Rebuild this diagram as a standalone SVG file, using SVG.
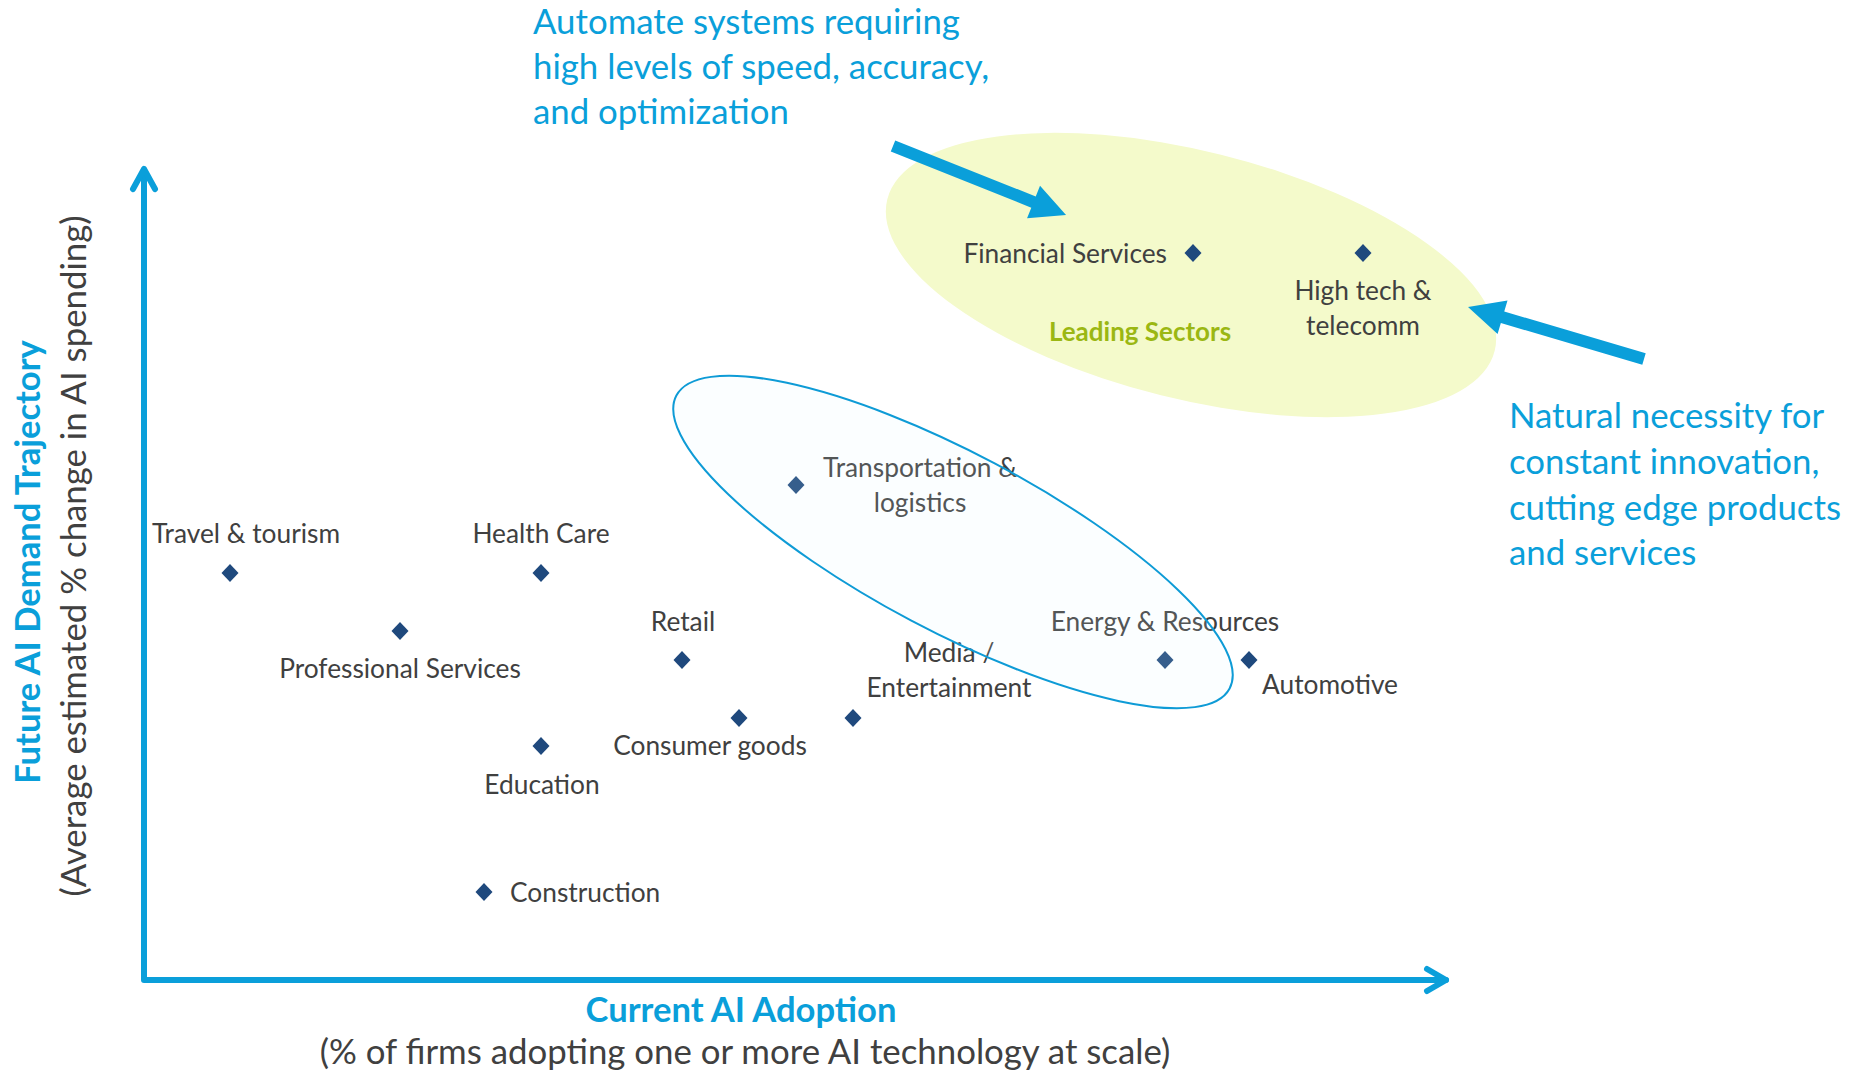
<svg xmlns="http://www.w3.org/2000/svg" width="1860" height="1075" viewBox="0 0 1860 1075">
<defs>
<style>
text{font-family:Lato,"Open Sans",sans-serif;}
.lbl{font-size:26.3px;fill:#404040;}
.call{font-size:34.8px;fill:#0A9FDA;}
.axt{font-size:34.6px;font-weight:bold;fill:#0A9FDA;}
.axs{font-size:34.8px;fill:#404040;}
.lead{font-size:26px;font-weight:bold;fill:#9BB713;}
.dia{fill:#1F497D;}
.axis{fill:none;stroke:#0A9FDA;stroke-width:6;stroke-linecap:round;stroke-linejoin:round;}
.blk{fill:#0A9FDA;}
</style>
<path id="d" d="M0,-9 L8.5,0 L0,9 L-8.5,0Z"/>
</defs>
<rect width="1860" height="1075" fill="#FFFFFF"/>
<g id="leading-sectors-zone">
<ellipse cx="1191" cy="275" rx="313" ry="124" transform="rotate(14 1191 275)" fill="#F4FACB"/>
<text class="lead" x="1140" y="341" text-anchor="middle">Leading Sectors</text>
</g>
<g id="axes">
<path class="axis" d="M144,170 V980 H1446"/>
<path class="axis" d="M133,189 L144,169 L155,189"/>
<path class="axis" d="M1427,969 L1446,980 L1427,991"/>
<text class="axt" x="741" y="1022" text-anchor="middle">Current AI Adoption</text>
<text class="axs" x="745" y="1064" text-anchor="middle">(% of firms adopting one or more AI technology at scale)</text>
<text class="axt" transform="translate(40,562) rotate(-90)" text-anchor="middle">Future AI Demand Trajectory</text>
<text class="axs" transform="translate(86,556) rotate(-90)" text-anchor="middle">(Average estimated % change in AI spending)</text>
</g>
<g id="travel"><use href="#d" class="dia" x="230" y="573"/><text class="lbl" x="246" y="543" text-anchor="middle">Travel &amp; tourism</text></g>
<g id="health"><use href="#d" class="dia" x="541" y="573"/><text class="lbl" x="541" y="543" text-anchor="middle">Health Care</text></g>
<g id="professional"><use href="#d" class="dia" x="400" y="631"/><text class="lbl" x="400" y="678" text-anchor="middle">Professional Services</text></g>
<g id="retail"><use href="#d" class="dia" x="682" y="660"/><text class="lbl" x="683" y="631" text-anchor="middle">Retail</text></g>
<g id="consumer"><use href="#d" class="dia" x="739" y="718"/><text class="lbl" x="710" y="755" text-anchor="middle">Consumer goods</text></g>
<g id="education"><use href="#d" class="dia" x="541" y="746"/><text class="lbl" x="542" y="794" text-anchor="middle">Education</text></g>
<g id="construction"><use href="#d" class="dia" x="484" y="892"/><text class="lbl" x="510" y="902">Construction</text></g>
<g id="media"><use href="#d" class="dia" x="853" y="718"/><text class="lbl" x="949" y="662" text-anchor="middle">Media /</text><text class="lbl" x="949" y="697" text-anchor="middle">Entertainment</text></g>
<g id="transport"><use href="#d" class="dia" x="796" y="485"/><text class="lbl" x="920" y="477" text-anchor="middle">Transportation &amp;</text><text class="lbl" x="920" y="512" text-anchor="middle">logistics</text></g>
<g id="energy"><use href="#d" class="dia" x="1165" y="660"/><text class="lbl" x="1165" y="631" text-anchor="middle">Energy &amp; Resources</text></g>
<g id="automotive"><use href="#d" class="dia" x="1249" y="660"/><text class="lbl" x="1262" y="694">Automotive</text></g>
<g id="financial"><use href="#d" class="dia" x="1193" y="253"/><text class="lbl" x="1167" y="263" text-anchor="end">Financial Services</text></g>
<g id="hightech"><use href="#d" class="dia" x="1363" y="253"/><text class="lbl" x="1363" y="300" text-anchor="middle">High tech &amp;</text><text class="lbl" x="1363" y="335" text-anchor="middle">telecomm</text></g>
<g id="emerging-zone">
<ellipse cx="953" cy="542" rx="313" ry="89" transform="rotate(27.9 953 542)" fill="#DFF4FB" fill-opacity="0.12" stroke="#0E9BD6" stroke-width="2"/>
</g>
<g id="connectors">
<path class="blk" transform="translate(893,146) rotate(21.75)" d="M0,-6 L151.3,-6 L151.3,-17.5 L186.3,0 L151.3,17.5 L151.3,6 L0,6Z"/>
<path class="blk" transform="translate(1644,359) rotate(196.46)" d="M0,-6 L147.5,-6 L147.5,-17.5 L183.5,0 L147.5,17.5 L147.5,6 L0,6Z"/>
</g>
<g id="callout-automate">
<text class="call" x="533" y="34">Automate systems requiring</text>
<text class="call" x="533" y="79">high levels of speed, accuracy,</text>
<text class="call" x="533" y="124">and optimization</text>
</g>
<g id="callout-natural">
<text class="call" x="1509" y="428">Natural necessity for</text>
<text class="call" x="1509" y="474">constant innovation,</text>
<text class="call" x="1509" y="520">cutting edge products</text>
<text class="call" x="1509" y="565">and services</text>
</g>
</svg>
